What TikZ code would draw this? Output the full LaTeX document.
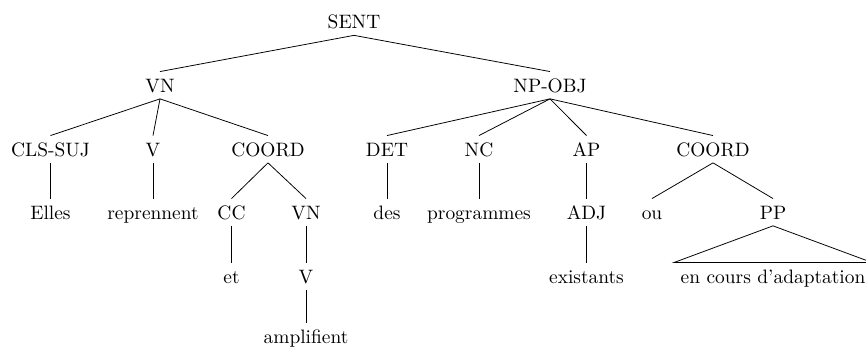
\documentclass[tikz,border=0pt]{standalone}
\begin{document}
\begin{tikzpicture}[x=0.515pt,y=-0.515pt,
  tn/.style={inner sep=3.33pt, text height=7pt, text depth=0pt, anchor=base},
  edge/.style={draw, line width=0.4pt}]
\useasboundingbox (0,0) rectangle (866,347);
% level 1
\node[tn] (sent) at (354,28.5) {SENT};
% level 2
\node[tn] (vn) at (160,92) {VN};
\node[tn] (np) at (550,92) {NP-OBJ};
% level 3
\node[tn] (cls) at (50.5,156) {CLS-SUJ};
\node[tn] (v) at (153,156) {V};
\node[tn] (coordA) at (268,156) {COORD};
\node[tn] (det) at (387,156) {DET};
\node[tn] (nc) at (479,156) {NC};
\node[tn] (ap) at (586.5,156) {AP};
\node[tn] (coordB) at (713,156) {COORD};
% level 4
\node[tn] (elles) at (50.5,219) {Elles};
\node[tn] (repr) at (153,219) {reprennent};
\node[tn] (cc) at (231.5,219) {CC};
\node[tn] (vnB) at (306,219) {VN};
\node[tn] (des) at (387,219) {des};
\node[tn] (prog) at (479,219) {programmes};
\node[tn] (adj) at (586.5,219) {ADJ};
\node[tn] (ou) at (652,219) {ou};
\node[tn] (pp) at (773,219) {PP};
% level 5
\node[tn] (et) at (231.5,283) {et};
\node[tn] (vB) at (306,283) {V};
\node[tn] (exist) at (586.5,283) {existants};
\node[tn] (encours) at (773,283) {en cours d'adaptation};
% level 6
\node[tn] (ampl) at (306,343.5) {amplifient};
% edges
\path[edge] (sent.south) -- (vn.north);
\path[edge] (sent.south) -- (np.north);
\path[edge] (vn.south) -- (cls.north);
\path[edge] (vn.south) -- (v.north);
\path[edge] (vn.south) -- (coordA.north);
\path[edge] (np.south) -- (det.north);
\path[edge] (np.south) -- (nc.north);
\path[edge] (np.south) -- (ap.north);
\path[edge] (np.south) -- (coordB.north);
\path[edge] (cls.south) -- (elles.north);
\path[edge] (v.south) -- (repr.north);
\path[edge] (coordA.south) -- (cc.north);
\path[edge] (coordA.south) -- (vnB.north);
\path[edge] (det.south) -- (des.north);
\path[edge] (nc.south) -- (prog.north);
\path[edge] (ap.south) -- (adj.north);
\path[edge] (coordB.south) -- (ou.north);
\path[edge] (coordB.south) -- (pp.north);
\path[edge] (cc.south) -- (et.north);
\path[edge] (vnB.south) -- (vB.north);
\path[edge] (adj.south) -- (exist.north);
\path[edge] (vB.south) -- (ampl.north);
\path[edge] (pp.south) -- (encours.north west) -- (encours.north east) -- cycle;
\end{tikzpicture}
\end{document}
